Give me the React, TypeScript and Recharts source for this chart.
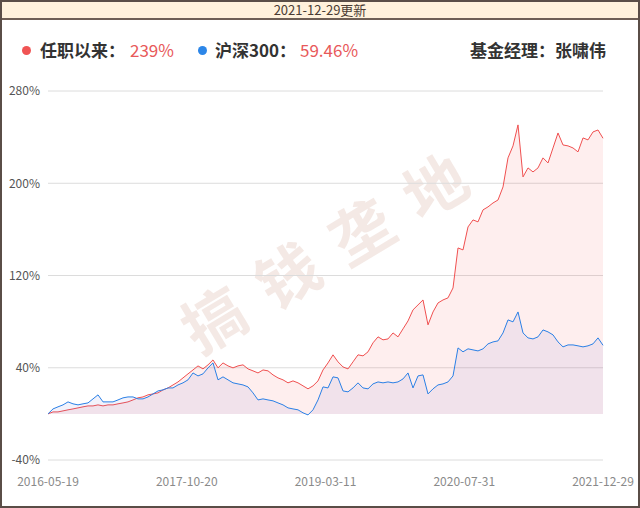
import React from "react";
import { ComposedChart, Area, XAxis, YAxis, CartesianGrid } from "recharts";

// Tick labels
const xTickLabels = ["2016-05-19", "2017-10-20", "2019-03-11", "2020-07-31", "2021-12-29"];
const yTicks = [-40, 40, 120, 200, 280];

// Fund manager tenure cumulative return (%), sampled across the period
const fundReturn = [
  0, 1.7, 1.7, 2.6, 3.5, 4.3, 5.2, 6.1, 6.9, 6.9,
  7.8, 6.9, 7.8, 7.8, 8.7, 9.5, 10.4, 12.1, 13.9, 14.7,
  16.5, 17.3, 18.2, 20.8, 22.5, 25.1, 27.7, 31.2, 34.7, 38.1,
  41.6, 39.0, 42.5, 46.8, 39.9, 44.2, 41.6, 39.9, 41.6, 42.5,
  39.0, 37.3, 35.5, 38.1, 37.3, 33.8, 31.2, 29.5, 26.9, 28.6,
  26.9, 24.3, 21.7, 24.3, 28.6, 38.1, 44.2, 51.2, 45.1, 40.7,
  39.0, 45.1, 51.2, 50.3, 53.8, 61.6, 66.8, 64.2, 65.0, 70.2,
  66.8, 73.7, 80.6, 90.2, 94.5, 98.8, 77.2, 88.4, 96.2, 98.8,
  100.6, 109.2, 143.9, 142.2, 162.1, 168.2, 166.5, 176.9, 179.5, 182.9,
  185.5, 196.8, 222.0, 232.4, 250.6, 205.5, 213.3, 209.8, 213.3, 222.0,
  217.6, 230.6, 243.6, 233.2, 232.4, 230.6, 227.2, 239.3, 237.6, 244.5,
  246.2, 239,
];

// CSI 300 cumulative return (%)
const hs300Return = [
  0, 4.3, 6.1, 7.8, 10.4, 8.7, 7.8, 8.7, 9.5, 13.0,
  16.5, 10.4, 10.4, 10.4, 12.1, 13.9, 14.7, 14.7, 13.0, 13.0,
  14.7, 17.3, 19.9, 20.8, 22.5, 22.5, 25.1, 26.9, 29.5, 35.5,
  32.9, 34.7, 39.9, 44.2, 29.5, 32.1, 29.5, 26.9, 26.0, 25.1,
  23.4, 18.2, 12.1, 13.0, 12.1, 11.3, 9.5, 7.8, 5.2, 4.3,
  3.5, 0.9, -0.9, 3.5, 12.1, 23.4, 22.5, 32.1, 31.2, 19.9,
  19.1, 22.5, 26.9, 22.5, 21.7, 26.0, 27.7, 26.9, 27.7, 26.9,
  27.7, 30.3, 35.5, 22.5, 32.9, 33.8, 17.3, 21.7, 25.1, 26.0,
  27.7, 32.9, 57.2, 53.8, 56.4, 55.5, 54.6, 56.4, 60.7, 62.4,
  63.3, 70.2, 81.5, 79.8, 88.4, 70.2, 65.9, 65.0, 66.8, 72.8,
  71.1, 68.5, 62.4, 58.1, 59.8, 59.8, 59.0, 58.1, 59.0, 60.7,
  65.9, 59.46,
];

const lastIndex = fundReturn.length - 1;
const xTickPositions = xTickLabels.map((_, k) => (lastIndex * k) / (xTickLabels.length - 1));

const data = fundReturn.map((v, i) => ({ i, fund: v, hs300: hs300Return[i] }));

const FONT = '"Noto Sans CJK SC", "Noto Sans", sans-serif';

export default function App() {
  return (
    <div
      style={{
        position: "absolute",
        left: 0,
        top: 0,
        width: 640,
        height: 508,
        background: "#ffffff",
        fontFamily: FONT,
        overflow: "hidden",
      }}
    >
      {/* header */}
      <div
        style={{
          position: "absolute",
          left: 0,
          top: 0,
          width: 640,
          height: 20,
          background: "#fff1dc",
          borderBottom: "2px solid #6e5e55",
          boxSizing: "border-box",
          textAlign: "center",
          fontSize: 13,
          lineHeight: "19px",
          color: "#4a3b33",
        }}
      >
        2021-12-29更新
      </div>

      {/* legend row */}
      <div style={{ position: "absolute", left: 22, top: 46, width: 9, height: 9, borderRadius: 5, background: "#f05454" }} />
      <div style={{ position: "absolute", left: 40, top: 38, fontSize: 17, lineHeight: "24px", fontWeight: 700, color: "#333" }}>
        任职以来：
      </div>
      <div style={{ position: "absolute", left: 130, top: 38, fontSize: 17, lineHeight: "24px", color: "#e8595a" }}>239%</div>

      <div style={{ position: "absolute", left: 198, top: 46, width: 9, height: 9, borderRadius: 5, background: "#2c86e8" }} />
      <div style={{ position: "absolute", left: 215, top: 38, fontSize: 17, lineHeight: "24px", fontWeight: 700, color: "#333" }}>
        沪深300：
      </div>
      <div style={{ position: "absolute", left: 300, top: 38, fontSize: 17, lineHeight: "24px", color: "#e8595a" }}>59.46%</div>

      <div style={{ position: "absolute", left: 470, top: 38, fontSize: 17, lineHeight: "24px", fontWeight: 700, color: "#333" }}>
        基金经理：张啸伟
      </div>

      {/* watermark */}
      <div
        style={{
          position: "absolute",
          left: 333,
          top: 244,
          transform: "translate(-50%, -50%) rotate(-31deg)",
          fontSize: 62,
          fontWeight: 700,
          letterSpacing: 24,
          color: "rgba(215, 175, 160, 0.28)",
          whiteSpace: "nowrap",
          lineHeight: "62px",
        }}
      >
        搞钱垄地
      </div>

      {/* chart */}
      <div style={{ position: "absolute", left: 0, top: 0 }}>
        <ComposedChart
          width={640}
          height={508}
          data={data}
          margin={{ top: 91, right: 37, bottom: 18, left: 0 }}
        >
          <CartesianGrid horizontal vertical={false} stroke="#dcdcdc" strokeWidth={1} />
          <XAxis
            dataKey="i"
            type="number"
            domain={[0, lastIndex]}
            ticks={xTickPositions}
            tickFormatter={(_v: number, idx: number) => xTickLabels[idx]}
            interval={0}
            axisLine={false}
            tickLine={false}
            tickSize={0}
            tickMargin={17}
            height={30}
            tick={{ fill: "#8a8a8a", fontSize: 12, fontFamily: FONT }}
          />
          <YAxis
            type="number"
            domain={[-40, 280]}
            ticks={yTicks}
            tickFormatter={(v: number) => `${v}%`}
            axisLine={false}
            tickLine={false}
            tickSize={0}
            tickMargin={8}
            width={48}
            tick={{ fill: "#555555", fontSize: 12, fontFamily: FONT }}
          />
          <Area
            type="linear"
            dataKey="fund"
            stroke="#f05050"
            strokeWidth={1}
            fill="#f45a5a"
            fillOpacity={0.1}
            baseValue={0}
            dot={false}
            activeDot={false}
            isAnimationActive={false}
          />
          <Area
            type="linear"
            dataKey="hs300"
            stroke="#2a80e6"
            strokeWidth={1}
            fill="#5a5ad0"
            fillOpacity={0.08}
            baseValue={0}
            dot={false}
            activeDot={false}
            isAnimationActive={false}
          />
        </ComposedChart>
      </div>

      {/* outer frame */}
      <div
        style={{
          position: "absolute",
          left: 0,
          top: 0,
          width: 640,
          height: 508,
          border: "2px solid #5a4d47",
          boxSizing: "border-box",
          pointerEvents: "none",
        }}
      />
    </div>
  );
}
